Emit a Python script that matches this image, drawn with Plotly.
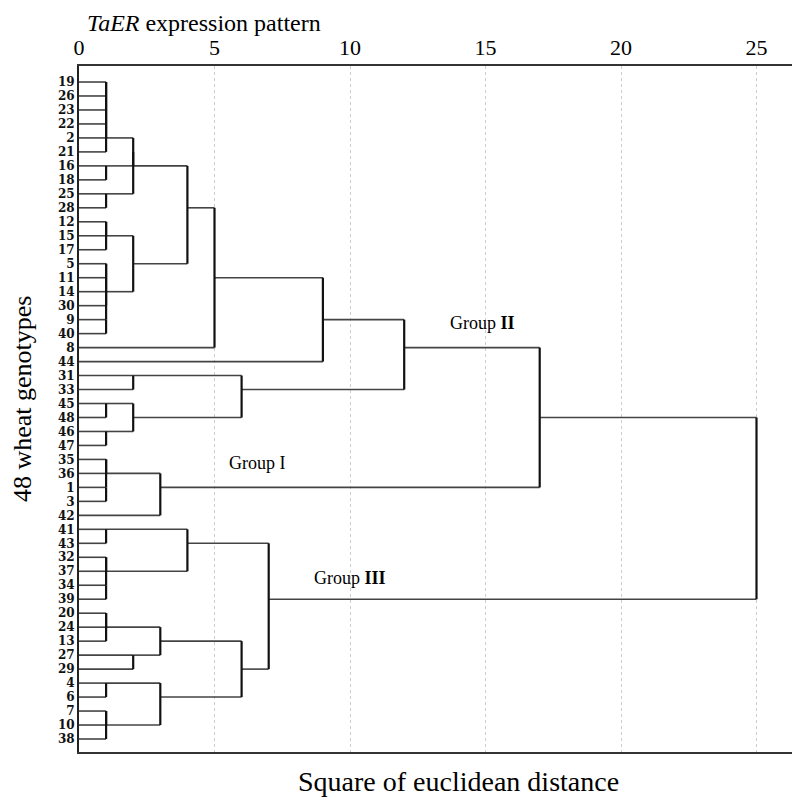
import plotly.graph_objects as go

# Leaf order (top to bottom) of the 48 wheat genotypes
leaves = ["19", "26", "23", "22", "2", "21", "16", "18", "25", "28",
          "12", "15", "17", "5", "11", "14", "30", "9", "40", "8",
          "44", "31", "33", "45", "48", "46", "47", "35", "36", "1",
          "3", "42", "41", "43", "32", "37", "34", "39", "20", "24",
          "13", "27", "29", "4", "6", "7", "10", "38"]

# Agglomeration schedule: (cluster a, cluster b, rescaled distance); "#k" = k-th merge
merge_a = ["19", "#0", "#1", "#2", "#3", "16", "25", "#4", "#7", "12",
           "#9", "5", "14", "#11", "9", "#13", "#10", "#8", "#17", "#18",
           "31", "45", "46", "#21", "#20", "#19", "35", "1", "#26", "#28",
           "#25", "41", "32", "34", "#32", "#31", "20", "#36", "27", "#37",
           "4", "7", "#41", "#40", "#39", "#35", "#30"]
merge_b = ["26", "23", "22", "2", "21", "18", "28", "#5", "#6", "15",
           "17", "11", "30", "#12", "40", "#14", "#15", "#16", "8", "44",
           "33", "48", "47", "#22", "#23", "#24", "36", "3", "#27", "42",
           "#29", "43", "37", "39", "#33", "#34", "24", "13", "29", "#38",
           "6", "10", "38", "#42", "#43", "#44", "#45"]
merge_h = [1, 1, 1, 1, 1, 1, 1, 2, 2, 1,
           1, 1, 1, 1, 1, 1, 2, 4, 5, 9,
           2, 1, 1, 2, 6, 12, 1, 1, 1, 3,
           17, 1, 1, 1, 1, 4, 1, 1, 2, 3,
           1, 1, 1, 3, 6, 7, 25]

# Tick values of the distance axis
x_ticks = [0, 5, 10, 15, 20, 25]

group_labels = ["Group I", "Group <b>II</b>", "Group <b>III</b>"]

# ---- build dendrogram geometry from the merge table ----
row = {lab: i for i, lab in enumerate(leaves)}
height = {lab: 0 for lab in leaves}
hx, hy, vx, vy = [], [], [], []
for k, (a, b, h) in enumerate(zip(merge_a, merge_b, merge_h)):
    ra, rb = row[a], row[b]
    for c in (a, b):
        hx += [height[c], h, None]
        hy += [row[c], row[c], None]
    vx += [h, h, None]
    vy += [ra, rb, None]
    key = "#%d" % k
    row[key] = (ra + rb) // 2
    height[key] = h

fig = go.Figure()
fig.add_trace(go.Scatter(x=hx, y=hy, mode="lines",
                         line=dict(color="#444444", width=1.6),
                         hoverinfo="skip", showlegend=False))
fig.add_trace(go.Scatter(x=vx, y=vy, mode="lines",
                         line=dict(color="#111111", width=2.2),
                         hoverinfo="skip", showlegend=False))

serif = "Liberation Serif, Times New Roman, serif"
fig.update_layout(
    width=792, height=792,
    margin=dict(l=71, r=8, t=58, b=48, autoexpand=False),
    paper_bgcolor="white", plot_bgcolor="white",
    showlegend=False,
    xaxis=dict(range=[0, 26.31], side="top", tickvals=x_ticks,
               ticks="",
               tickfont=dict(family=serif, size=22, color="black"),
               showgrid=True, gridcolor="#cccccc", griddash="dot", gridwidth=1,
               zeroline=False, showline=True, linecolor="#333333",
               linewidth=2, mirror=True, automargin=False),
    yaxis=dict(range=[47.93, -1.145], tickvals=list(range(len(leaves))),
               ticktext=leaves, ticks="", showgrid=False, zeroline=False,
               tickfont=dict(family="DejaVu Serif", size=12, color="#111111",
                             weight="bold"),
               showline=True, linecolor="#222222", linewidth=2, mirror=True,
               automargin=False),
    annotations=[
        dict(text="<i>TaER</i> expression pattern", xref="paper", yref="paper",
             x=0.0084, y=1.0625, xanchor="left", yanchor="middle",
             showarrow=False, font=dict(family=serif, size=24, color="black")),
        dict(text="Square of euclidean distance", xref="paper", yref="paper",
             x=0.5316, y=-0.0437, xanchor="center", yanchor="middle",
             showarrow=False, font=dict(family=serif, size=28, color="black")),
        dict(text="48 wheat genotypes", xref="paper", yref="paper",
             x=-0.0785, y=0.5146, xanchor="center", yanchor="middle",
             textangle=-90, showarrow=False,
             font=dict(family=serif, size=26, color="black")),
        dict(text=group_labels[0], x=6.6, y=27.25, xref="x", yref="y",
             showarrow=False, font=dict(family=serif, size=18, color="black")),
        dict(text=group_labels[1], x=14.9, y=17.24, xref="x", yref="y",
             showarrow=False, font=dict(family=serif, size=18, color="black")),
        dict(text=group_labels[2], x=10.0, y=35.5, xref="x", yref="y",
             showarrow=False, font=dict(family=serif, size=18, color="black")),
    ],
)

fig.write_html("out.html")
